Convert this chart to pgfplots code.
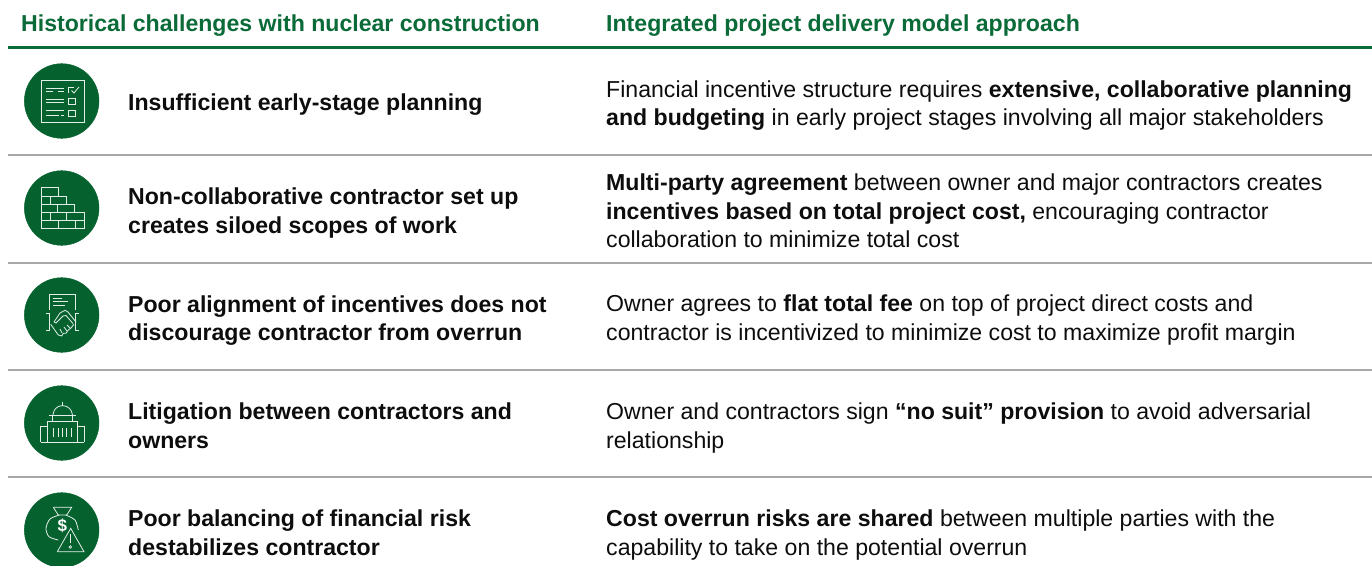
\documentclass[border=0pt]{standalone}
\usepackage{pgfplots}
\usepackage{fontspec}
\setmainfont{Liberation Sans}
\pgfplotsset{compat=1.18}
\definecolor{dg}{HTML}{05622F}
\definecolor{hg}{HTML}{0B6B38}
\definecolor{rl}{HTML}{A8A8A8}
\definecolor{tx}{HTML}{0D0D0D}
\definecolor{il}{HTML}{E4EEE8}
\newcommand\ic[1]{\addplot[ic] coordinates {#1};}
\newcommand\ics[1]{\addplot[ic,smooth] coordinates {#1};}
\newcommand\T[3]{\node[anchor=base west,inner sep=0pt,text=tx] at (axis cs:#1,#2) {\fontsize{23.1}{26}\selectfont #3};}
\newcommand\B[3]{\T{#1}{#2}{\textbf{#3}}}
\newcommand\HD[3]{\node[anchor=base west,inner sep=0pt,text=hg] at (axis cs:#1,#2) {\fontsize{23.1}{26}\selectfont\bfseries #3};}
\begin{document}
\begin{tikzpicture}
\begin{axis}[
  scale only axis,width=1372pt,height=565pt,
  xmin=0,xmax=1372,ymin=0,ymax=565,y dir=reverse,
  axis lines=none,clip=true,clip marker paths=true,
  ic/.style={il,line width=0.8pt,no marks,line join=miter},
]
% rules
\addplot[hg,line width=2.3pt,no marks] coordinates {(8,47.5) (1372,47.5)};
\addplot[rl,line width=2pt,no marks] coordinates {(8,155) (1372,155)};
\addplot[rl,line width=2pt,no marks] coordinates {(8,263) (1372,263)};
\addplot[rl,line width=2pt,no marks] coordinates {(8,370) (1372,370)};
\addplot[rl,line width=2pt,no marks] coordinates {(8,477) (1372,477)};
% circles
\addplot[only marks,mark=*,mark size=37.3pt,mark options={fill=dg,draw=dg,line width=0.5pt}] coordinates {(61.7,101) (61.7,208) (61.7,315) (61.7,423) (61.7,530)};
% icon 1
\ic{(41,80) (84,80) (84,122.5) (41,122.5) (41,80)}
\ic{(45.7,88) (64,88)} \ic{(45.7,91.5) (53,91.5)} \ic{(58,91.5) (64,91.5)}
\ic{(74,87.7) (68.3,87.7) (68.3,93.3)} \ic{(71.5,90.5) (74,93) (79,87)}
\ic{(45.7,99) (64,99)} \ic{(45.7,102.7) (64,102.7)}
\ic{(68.3,98.3) (75.3,98.3) (75.3,104.3) (68.3,104.3) (68.3,98.3)}
\ic{(45.7,110.7) (64,110.7)} \ic{(45.7,115) (59,115)} \ic{(61,115) (64,115)}
\ic{(68.3,110.3) (75.3,110.3) (75.3,116.7) (68.3,116.7) (68.3,110.3)}
% icon 2
\ic{(41.3,187.7) (58.7,187.7) (58.7,196) (66.7,196) (66.7,204) (74.7,204) (74.7,212.3) (84,212.3) (84,228.3) (41.3,228.3) (41.3,187.7)}
\ic{(41.3,196) (66.7,196)} \ic{(41.3,204) (74.7,204)} \ic{(41.3,212.3) (84,212.3)} \ic{(41.3,220.3) (84,220.3)}
\ic{(50,196) (50,204)} \ic{(57.3,204) (57.3,212.3)} \ic{(50,212.3) (50,220.3)} \ic{(66.7,212.3) (66.7,220.3)} \ic{(58.3,220.3) (58.3,228.3)} \ic{(75,220.3) (75,228.3)}
% icon 3
\ic{(49.3,310) (49.3,294) (75.7,294) (75.7,310)}
\ic{(52.7,298.3) (61.7,298.3)} \ic{(52.7,301.7) (68.3,301.7)} \ic{(52.7,305.7) (65,305.7)}
\ic{(45.7,313.3) (49.3,313.3) (49.3,330) (45.7,330)}
\ic{(79.3,313.3) (75.7,313.3) (75.7,330) (79.3,330)}
\ic{(54,322) (60,313) (65,310.3) (68,312) (76,322)}
\ic{(59,320) (63,316) (66,315.5) (73,323.5)}
\ic{(59,320) (56,323) (54,322)}
\ic{(50.7,324.3) (58.3,335) (61.7,336) (63.3,333.3) (66,333.3) (68.3,330) (70.7,328.3) (74,324.3)}
\ic{(60,329) (62,333)} \ic{(64,327) (67,331)} \ic{(67,325) (70,328)}
% icon 4
\ic{(47.3,442.3) (47.3,421) (77.3,421) (77.3,442.3)}
\ic{(40.7,442.3) (84.3,442.3)}
\ic{(47.3,426.7) (40.7,426.7) (40.7,442.3)}
\ic{(77.3,426.7) (84.3,426.7) (84.3,442.3)}
\ic{(53.3,428.3) (53.3,436.7)} \ic{(58.3,428.3) (58.3,436.7)} \ic{(62.7,428.3) (62.7,436.7)} \ic{(66.7,428.3) (66.7,436.7)} \ic{(71.3,428.3) (71.3,436.7)}
\ic{(49,415.7) (76,415.7)}
\ic{(52.7,415.7) (52.7,421)} \ic{(72.7,415.7) (72.7,421)}
\ics{(52.7,415.7) (54.5,410) (58,406.7) (62.5,405.7) (67,406.7) (70.8,410) (72.7,415.7)}
\ic{(62.5,401.7) (62.5,405.7)}
% icon 5
\ic{(53.3,507.3) (71.7,507.3) (66.7,515) (58.3,515) (53.3,507.3)}
\ics{(59.3,515) (50,519) (46,528.3) (49,536.7) (58.3,540)}
\ics{(65.7,515) (75,520) (78.3,530)}
\ic{(57.3,551.7) (70.7,528.3) (84,551.7) (57.3,551.7)}
\ic{(70.3,534.3) (70.3,543.3)}
\addplot[only marks,mark=*,mark size=1.3pt,mark options={fill=dg,draw=il,line width=0.7pt}] coordinates {(70.3,547)};
\node[text=white,inner sep=0pt] at (axis cs:62.3,526) {\fontsize{17}{20}\selectfont\bfseries\$};
% headers
\HD{21}{31}{Historical challenges with nuclear construction}
\HD{606}{31}{Integrated project delivery model approach}
% col 1
\B{128}{110}{Insufficient early-stage planning}
\B{128}{204}{Non-collaborative contractor set up}
\B{128}{233}{creates siloed scopes of work}
\B{128}{312}{Poor alignment of incentives does not}
\B{128}{340}{discourage contractor from overrun}
\B{128}{419}{Litigation between contractors and}
\B{128}{448}{owners}
\B{128}{526}{Poor balancing of financial risk}
\B{128}{555}{destabilizes contractor}
% col 2
\T{606}{97}{Financial incentive structure requires \textbf{extensive, collaborative planning}}
\T{606}{125}{\textbf{and budgeting} in early project stages involving all major stakeholders}
\T{606}{190}{\textbf{Multi-party agreement} between owner and major contractors creates}
\T{606}{219}{\textbf{incentives based on total project cost,} encouraging contractor}
\T{606}{247}{collaboration to minimize total cost}
\T{606}{311}{Owner agrees to \textbf{flat total fee} on top of project direct costs and}
\T{606}{340}{contractor is incentivized to minimize cost to maximize profit margin}
\T{606}{419}{Owner and contractors sign \textbf{“no suit” provision} to avoid adversarial}
\T{606}{448}{relationship}
\T{606}{526}{\textbf{Cost overrun risks are shared} between multiple parties with the}
\T{606}{555}{capability to take on the potential overrun}
\end{axis}
\pgfresetboundingbox
\path[use as bounding box] (current axis.south west) rectangle (current axis.north east);
\end{tikzpicture}
\end{document}
